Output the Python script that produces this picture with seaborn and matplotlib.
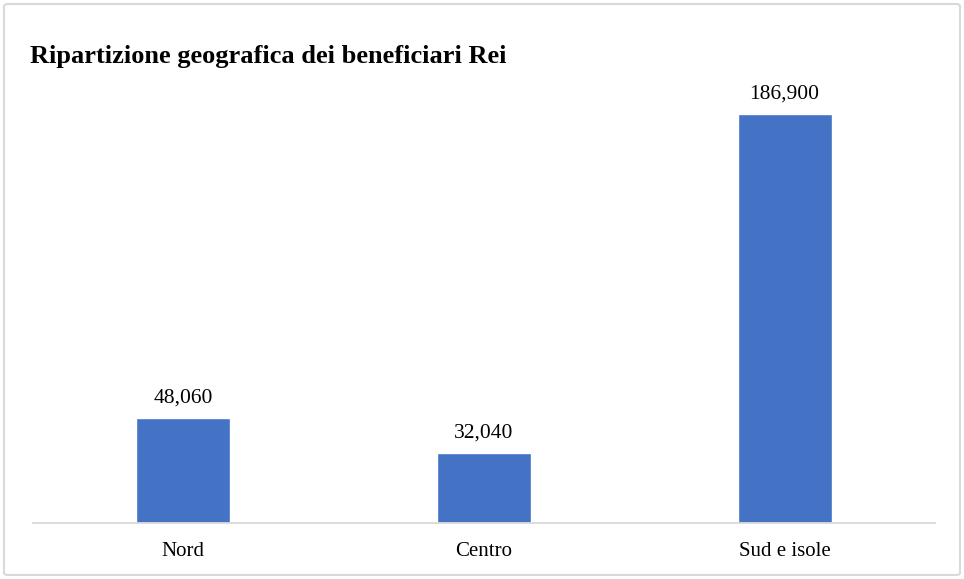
import matplotlib
matplotlib.use("Agg")
import matplotlib.pyplot as plt
from matplotlib.patches import FancyBboxPatch
import seaborn as sns
import pandas as pd

categories = ["Nord", "Centro", "Sud e isole"]
beneficiari = [48060, 32040, 186900]
title = "Ripartizione geografica dei beneficiari Rei"

sns.set_theme(style="white")
plt.rcParams["font.family"] = ["Liberation Serif", "DejaVu Serif"]

df = pd.DataFrame({"area": categories, "valore": beneficiari})

fig = plt.figure(figsize=(9.64, 5.79), dpi=100)
ax = fig.add_axes([33 / 964, 1 - 523 / 579, 902 / 964, 438 / 579])

sns.barplot(data=df, x="area", y="valore", color="#4472C4", width=0.313,
            saturation=1, ax=ax)

ax.set_xlim(-0.5, 2.5)
ax.set_ylim(0, 200000)
ax.set_xlabel("")
ax.set_ylabel("")
ax.set_yticks([])
ax.tick_params(axis="x", length=0, labelsize=15, pad=14, colors="#000000")
for lbl in ax.get_xticklabels():
    lbl.set_fontfamily(["Liberation Serif", "DejaVu Serif"])

for side in ["top", "right", "left"]:
    ax.spines[side].set_visible(False)
ax.spines["bottom"].set_color("#D9D9D9")
ax.spines["bottom"].set_linewidth(1.3)

for i, v in enumerate(beneficiari):
    ax.annotate(f"{v:,}", (i, v), xytext=(0, 7.5), textcoords="offset points",
                ha="center", va="bottom", fontsize=15.5, color="#000000")

fig.text(30 / 964, 1 - 57 / 579, title, fontsize=19, fontweight="bold",
         ha="left", va="center", color="#000000")

frame = FancyBboxPatch((4 / 964, 4 / 579), 956 / 964, 571 / 579,
                       boxstyle="round,pad=0,rounding_size=0.004",
                       transform=fig.transFigure, fill=False,
                       edgecolor="#D9D9D9", linewidth=1.5)
fig.patches.append(frame)

fig.savefig("out.png", dpi=100)
